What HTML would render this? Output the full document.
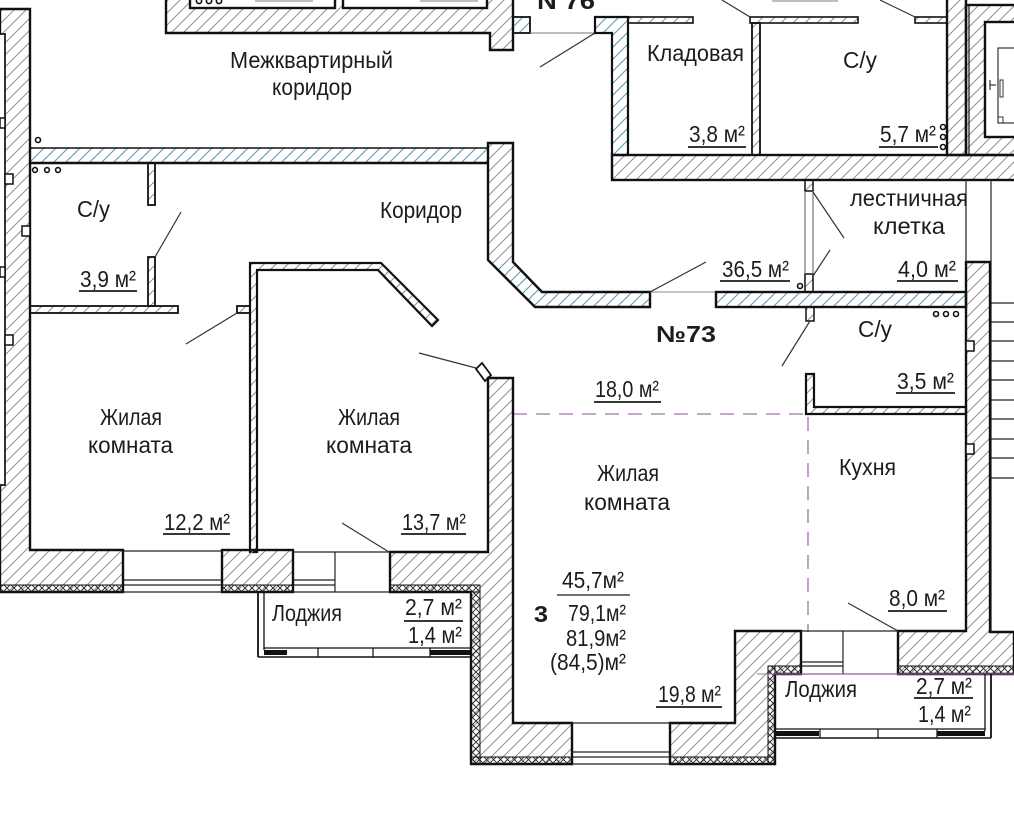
<!DOCTYPE html>
<html><head><meta charset="utf-8">
<style>
html,body{margin:0;padding:0;background:#fff;}
svg{display:block;}
text{font-family:"Liberation Sans","DejaVu Sans",sans-serif;fill:#1c1c1c;font-size:23px;}
.b{font-weight:bold;}
</style></head><body>
<svg width="1014" height="823" viewBox="0 0 1014 823" xmlns="http://www.w3.org/2000/svg">
<defs>
<pattern id="h" patternUnits="userSpaceOnUse" width="12" height="12">
<path d="M-3,15 L15,-3 M-3,3 L3,-3 M9,15 L15,9" stroke="#8f8f8f" stroke-width="1"/>
</pattern>
<pattern id="bl" patternUnits="userSpaceOnUse" width="12" height="12">
<path d="M-3,15 L15,-3 M-3,3 L3,-3 M9,15 L15,9" stroke="#5b9db3" stroke-width="1.1"/>
</pattern>
<pattern id="x" patternUnits="userSpaceOnUse" width="7" height="7">
<path d="M0,0 L7,7 M7,0 L0,7" stroke="#222" stroke-width="0.9"/>
</pattern>
</defs>
<rect width="1014" height="823" fill="#fff"/>

<!-- top neighbour block -->
<polygon points="166,-3 513,-3 513,50 490,50 490,33 166,33" fill="url(#h)" stroke="#111" stroke-width="2.4"/>
<rect x="190" y="-6" width="145" height="14" fill="#fff" stroke="#111" stroke-width="2.4"/>
<rect x="343" y="-6" width="144" height="14" fill="#fff" stroke="#111" stroke-width="2.4"/>
<g fill="none" stroke="#111" stroke-width="1.6"><circle cx="199" cy="1" r="2.6"/><circle cx="209" cy="1" r="2.6"/><circle cx="219" cy="1" r="2.6"/></g>
<line x1="255" y1="1" x2="313" y2="1" stroke="#999" stroke-width="1.2"/>
<line x1="420" y1="1" x2="478" y2="1" stroke="#999" stroke-width="1.2"/>
<text class="b" x="537" y="9" font-size="30" textLength="58" lengthAdjust="spacingAndGlyphs">N 76</text>

<rect x="513" y="17" width="17" height="16" fill="url(#bl)" stroke="#111" stroke-width="1.8"/>
<line x1="530" y1="33" x2="595" y2="33" stroke="#777" stroke-width="1"/>
<line x1="540" y1="67" x2="595" y2="33" stroke="#333" stroke-width="1.2"/>

<!-- gray band under storage / wc -->
<rect x="612" y="155" width="410" height="25" fill="url(#h)" stroke="#111" stroke-width="2.4"/>
<polygon points="595,17 628,17 628,155 612,155 612,33 595,33" fill="url(#bl)" stroke="#111" stroke-width="2.2"/>
<rect x="628" y="17" width="65" height="6" fill="url(#h)" stroke="#111" stroke-width="1.6"/>
<rect x="750" y="17" width="108" height="6" fill="url(#h)" stroke="#111" stroke-width="1.6"/>
<rect x="752" y="23" width="8" height="132" fill="url(#h)" stroke="#111" stroke-width="1.8"/>
<rect x="915" y="17" width="32" height="6" fill="url(#h)" stroke="#111" stroke-width="1.6"/>
<line x1="722" y1="0" x2="750" y2="17" stroke="#333" stroke-width="1.2"/>
<line x1="880" y1="0" x2="915" y2="17" stroke="#333" stroke-width="1.2"/>
<line x1="772" y1="1" x2="838" y2="1" stroke="#999" stroke-width="1.2"/>

<!-- column + elevator -->
<rect x="947" y="-3" width="19" height="158" fill="url(#h)" stroke="#111" stroke-width="2.4"/>
<rect x="966" y="5" width="52" height="150" fill="url(#h)" stroke="#111" stroke-width="2.4"/>
<line x1="969" y1="5" x2="969" y2="155" stroke="#111" stroke-width="1.2"/>
<rect x="985" y="22" width="35" height="115" fill="#fff" stroke="#111" stroke-width="2.4"/>
<rect x="998" y="48" width="20" height="75" fill="none" stroke="#333" stroke-width="1.2"/>
<rect x="998" y="117" width="5" height="6" fill="none" stroke="#333" stroke-width="1"/>
<line x1="990" y1="80" x2="990" y2="90" stroke="#333" stroke-width="1.2"/>
<line x1="990" y1="85" x2="996" y2="85" stroke="#333" stroke-width="1.2"/>
<rect x="1000" y="80" width="3" height="17" fill="none" stroke="#333" stroke-width="1"/>
<g fill="none" stroke="#111" stroke-width="1.6"><circle cx="943" cy="127" r="2.5"/><circle cx="943" cy="137" r="2.5"/><circle cx="943" cy="147" r="2.5"/></g>

<!-- apartment top wall -->
<rect x="30" y="148" width="458" height="15" fill="url(#bl)"/>
<line x1="30" y1="148" x2="488" y2="148" stroke="#111" stroke-width="1.6"/>
<line x1="30" y1="163" x2="488" y2="163" stroke="#111" stroke-width="2.6"/>

<!-- corridor wall with chamfer -->
<polygon points="488,143 513,143 513,262 488,260" fill="url(#h)"/>
<polygon points="488,260 513,262 542,292 650,292 650,307 535,307" fill="url(#bl)"/>
<polygon points="488,143 513,143 513,262 542,292 650,292 650,307 535,307 488,260" fill="none" stroke="#111" stroke-width="2.4"/>
<line x1="650" y1="292" x2="716" y2="292" stroke="#888" stroke-width="1"/>
<line x1="650" y1="292" x2="706" y2="262" stroke="#333" stroke-width="1.2"/>
<rect x="716" y="292" width="250" height="15" fill="url(#bl)" stroke="#111" stroke-width="2.4"/>

<!-- stairwell partition -->
<rect x="805" y="180" width="8" height="11" fill="url(#h)" stroke="#111" stroke-width="1.5"/>
<rect x="805" y="274" width="8" height="18" fill="url(#h)" stroke="#111" stroke-width="1.5"/>
<line x1="805" y1="191" x2="805" y2="274" stroke="#555" stroke-width="1"/>
<line x1="813" y1="191" x2="813" y2="274" stroke="#555" stroke-width="1"/>
<line x1="813" y1="192" x2="844" y2="238" stroke="#333" stroke-width="1.2"/>
<line x1="813" y1="276" x2="830" y2="250" stroke="#333" stroke-width="1.2"/>
<circle cx="800" cy="286" r="2.5" fill="none" stroke="#111" stroke-width="1.6"/>
<line x1="966" y1="180" x2="966" y2="262" stroke="#333" stroke-width="1.3"/>
<line x1="991" y1="180" x2="991" y2="632" stroke="#333" stroke-width="1.3"/>
<g stroke="#222" stroke-width="1.3">
<line x1="991" y1="303" x2="1014" y2="303"/><line x1="991" y1="322" x2="1014" y2="322"/>
<line x1="991" y1="341" x2="1014" y2="341"/><line x1="991" y1="361" x2="1014" y2="361"/>
<line x1="991" y1="380" x2="1014" y2="380"/><line x1="991" y1="400" x2="1014" y2="400"/>
<line x1="991" y1="419" x2="1014" y2="419"/><line x1="991" y1="439" x2="1014" y2="439"/>
<line x1="991" y1="458" x2="1014" y2="458"/><line x1="991" y1="478" x2="1014" y2="478"/>
</g>

<!-- right wall + kitchen bottom -->
<polygon points="898,631 966,631 966,262 990,262 990,632 1014,632 1014,674 898,674" fill="url(#h)" stroke="#111" stroke-width="2.4"/>
<rect x="966" y="341" width="8" height="10" fill="#fff" stroke="#111" stroke-width="1.5"/>
<rect x="966" y="444" width="8" height="10" fill="#fff" stroke="#111" stroke-width="1.5"/>

<!-- wc mid -->
<rect x="806" y="307" width="8" height="14" fill="url(#h)" stroke="#111" stroke-width="1.5"/>
<line x1="810" y1="321" x2="782" y2="366" stroke="#333" stroke-width="1.2"/>
<polygon points="806,374 814,374 814,407 966,407 966,414 806,414" fill="url(#h)" stroke="#111" stroke-width="2.2"/>
<g fill="none" stroke="#111" stroke-width="1.6"><circle cx="936" cy="314" r="2.5"/><circle cx="946" cy="314" r="2.5"/><circle cx="956" cy="314" r="2.5"/></g>

<!-- dashed purple -->
<line x1="513" y1="414" x2="806" y2="414" stroke="#a070a8" stroke-width="1.3" stroke-dasharray="14 9"/>
<line x1="808" y1="417" x2="808" y2="632" stroke="#a070a8" stroke-width="1.3" stroke-dasharray="14 9"/>

<!-- left wall -->
<polygon points="0,9 30,9 30,550 123,550 123,592 0,592" fill="url(#h)" stroke="#111" stroke-width="2.4"/>
<rect x="-3" y="34" width="8" height="451" fill="#fff" stroke="#111" stroke-width="1.7"/>
<g fill="#fff" stroke="#111" stroke-width="1.5">
<rect x="5" y="174" width="8" height="10"/><rect x="22" y="226" width="8" height="10"/>
<rect x="5" y="335" width="8" height="10"/><rect x="0" y="118" width="5" height="10"/>
<rect x="0" y="267" width="5" height="10"/>
</g>
<circle cx="38" cy="140" r="2.5" fill="none" stroke="#111" stroke-width="1.6"/>

<!-- left wc / room1 walls -->
<rect x="30" y="306" width="148" height="7" fill="url(#h)" stroke="#111" stroke-width="1.8"/>
<rect x="237" y="306" width="13" height="7" fill="url(#h)" stroke="#111" stroke-width="1.8"/>
<line x1="237" y1="313" x2="186" y2="344" stroke="#333" stroke-width="1.2"/>
<rect x="148" y="163" width="7" height="42" fill="url(#h)" stroke="#111" stroke-width="1.8"/>
<rect x="148" y="257" width="7" height="49" fill="url(#h)" stroke="#111" stroke-width="1.8"/>
<line x1="155" y1="257" x2="181" y2="212" stroke="#333" stroke-width="1.2"/>
<g fill="none" stroke="#111" stroke-width="1.6"><circle cx="35" cy="170" r="2.4"/><circle cx="47" cy="170" r="2.4"/><circle cx="58" cy="170" r="2.4"/></g>

<!-- room 2 walls -->
<polygon points="250,263 381,263 438,320 432,326 378,270 257,270 257,552 250,552" fill="url(#h)" stroke="#111" stroke-width="2.2"/>
<polygon points="476,369 482,363 491,375 485,381" fill="#fff" stroke="#111" stroke-width="1.8"/>
<line x1="476" y1="368" x2="419" y2="353" stroke="#333" stroke-width="1.2"/>

<!-- wall mass A -->
<polygon points="390,552 488,552 488,378 513,378 513,723 572,723 572,764 471,764 471,592 390,592" fill="url(#h)" stroke="#111" stroke-width="2.4"/>
<rect x="222" y="550" width="71" height="42" fill="url(#h)" stroke="#111" stroke-width="2.4"/>

<!-- windows bottom left -->
<g stroke="#222" stroke-width="1.2">
<line x1="123" y1="551" x2="222" y2="551"/><line x1="123" y1="580" x2="222" y2="580"/><line x1="123" y1="585" x2="222" y2="585"/><line x1="123" y1="592" x2="222" y2="592"/>
<line x1="293" y1="552" x2="390" y2="552"/><line x1="293" y1="580" x2="335" y2="580"/><line x1="293" y1="585" x2="335" y2="585"/><line x1="293" y1="592" x2="390" y2="592"/>
<line x1="335" y1="552" x2="335" y2="592"/>
</g>
<line x1="342" y1="523" x2="389" y2="552" stroke="#333" stroke-width="1.2"/>

<!-- wall mass B -->
<polygon points="670,723 735,723 735,631 801,631 801,674 775,674 775,764 670,764" fill="url(#h)" stroke="#111" stroke-width="2.4"/>
<g stroke="#222" stroke-width="1.2">
<line x1="572" y1="723" x2="670" y2="723"/><line x1="572" y1="752" x2="670" y2="752"/><line x1="572" y1="757" x2="670" y2="757"/><line x1="572" y1="764" x2="670" y2="764"/>
<line x1="801" y1="631" x2="898" y2="631"/><line x1="801" y1="662" x2="843" y2="662"/><line x1="801" y1="666" x2="843" y2="666"/>
<line x1="843" y1="631" x2="843" y2="674"/><line x1="801" y1="674" x2="898" y2="674"/>
</g>
<line x1="898" y1="631" x2="848" y2="603" stroke="#333" stroke-width="1.2"/>

<!-- crosshatch strips -->
<g fill="url(#x)" stroke="#111" stroke-width="1">
<rect x="0" y="585" width="123" height="7"/>
<rect x="222" y="585" width="71" height="7"/>
<rect x="390" y="585" width="90" height="7"/>
<rect x="471" y="592" width="9" height="172"/>
<rect x="471" y="757" width="101" height="7"/>
<rect x="670" y="757" width="105" height="7"/>
<rect x="768" y="666" width="7" height="98"/>
<rect x="768" y="666" width="33" height="8"/>
<rect x="898" y="666" width="116" height="8"/>
</g>
<line x1="757" y1="674" x2="1014" y2="674" stroke="#a070a8" stroke-width="1"/>

<!-- left loggia -->
<g stroke="#111">
<line x1="258" y1="592" x2="258" y2="657" stroke-width="1.8"/>
<line x1="264" y1="592" x2="264" y2="650" stroke-width="1.3"/>
<line x1="264" y1="648" x2="471" y2="648" stroke-width="1.2"/>
<line x1="258" y1="657" x2="471" y2="657" stroke-width="1.6"/>
<line x1="318" y1="648" x2="318" y2="657" stroke-width="1.2"/>
<line x1="373" y1="648" x2="373" y2="657" stroke-width="1.2"/>
<line x1="430" y1="648" x2="430" y2="657" stroke-width="1.2"/>
</g>
<rect x="264" y="650" width="23" height="5" fill="#111"/>
<rect x="430" y="650" width="41" height="5" fill="#111"/>

<!-- right loggia -->
<g stroke="#111">
<line x1="985" y1="674" x2="985" y2="731" stroke-width="1.3"/>
<line x1="991" y1="674" x2="991" y2="738" stroke-width="1.8"/>
<line x1="775" y1="729" x2="985" y2="729" stroke-width="1.2"/>
<line x1="775" y1="738" x2="991" y2="738" stroke-width="1.6"/>
<line x1="820" y1="729" x2="820" y2="738" stroke-width="1.2"/>
<line x1="878" y1="729" x2="878" y2="738" stroke-width="1.2"/>
<line x1="937" y1="729" x2="937" y2="738" stroke-width="1.2"/>
</g>
<rect x="775" y="731" width="44" height="5" fill="#111"/>
<rect x="937" y="731" width="48" height="5" fill="#111"/>

<!-- TEXT -->
<text x="230" y="68" textLength="163" lengthAdjust="spacingAndGlyphs">Межквартирный</text>
<text x="272" y="95" textLength="80" lengthAdjust="spacingAndGlyphs">коридор</text>
<text x="647" y="61" textLength="97" lengthAdjust="spacingAndGlyphs">Кладовая</text>
<text x="843" y="68" textLength="34" lengthAdjust="spacingAndGlyphs">С/у</text>
<text x="689" y="142" textLength="56" lengthAdjust="spacingAndGlyphs">3,8 м²</text>
<text x="880" y="142" textLength="56" lengthAdjust="spacingAndGlyphs">5,7 м²</text>
<text x="77" y="217" textLength="33" lengthAdjust="spacingAndGlyphs">С/у</text>
<text x="80" y="287" textLength="56" lengthAdjust="spacingAndGlyphs">3,9 м²</text>
<text x="380" y="218" textLength="82" lengthAdjust="spacingAndGlyphs">Коридор</text>
<text x="722" y="277" textLength="67" lengthAdjust="spacingAndGlyphs">36,5 м²</text>
<text x="850" y="206" textLength="118" lengthAdjust="spacingAndGlyphs">лестничная</text>
<text x="873" y="234" textLength="72" lengthAdjust="spacingAndGlyphs">клетка</text>
<text x="898" y="277" textLength="58" lengthAdjust="spacingAndGlyphs">4,0 м²</text>
<text class="b" x="656" y="342" font-size="33" textLength="60" lengthAdjust="spacingAndGlyphs">№73</text>
<text x="858" y="337" textLength="34" lengthAdjust="spacingAndGlyphs">С/у</text>
<text x="897" y="389" textLength="57" lengthAdjust="spacingAndGlyphs">3,5 м²</text>
<text x="595" y="397" textLength="64" lengthAdjust="spacingAndGlyphs">18,0 м²</text>
<text x="100" y="425" textLength="62" lengthAdjust="spacingAndGlyphs">Жилая</text>
<text x="88" y="453" textLength="85" lengthAdjust="spacingAndGlyphs">комната</text>
<text x="164" y="530" textLength="66" lengthAdjust="spacingAndGlyphs">12,2 м²</text>
<text x="338" y="425" textLength="62" lengthAdjust="spacingAndGlyphs">Жилая</text>
<text x="326" y="453" textLength="86" lengthAdjust="spacingAndGlyphs">комната</text>
<text x="402" y="530" textLength="64" lengthAdjust="spacingAndGlyphs">13,7 м²</text>
<text x="597" y="481" textLength="62" lengthAdjust="spacingAndGlyphs">Жилая</text>
<text x="584" y="510" textLength="86" lengthAdjust="spacingAndGlyphs">комната</text>
<text x="839" y="475" textLength="57" lengthAdjust="spacingAndGlyphs">Кухня</text>
<text x="889" y="606" textLength="56" lengthAdjust="spacingAndGlyphs">8,0 м²</text>
<text class="b" x="534" y="622" font-size="31" textLength="14" lengthAdjust="spacingAndGlyphs">3</text>
<text x="562" y="588" textLength="62" lengthAdjust="spacingAndGlyphs">45,7м²</text>
<text x="568" y="621" textLength="58" lengthAdjust="spacingAndGlyphs">79,1м²</text>
<text x="566" y="646" textLength="60" lengthAdjust="spacingAndGlyphs">81,9м²</text>
<text x="550" y="670" textLength="76" lengthAdjust="spacingAndGlyphs">(84,5)м²</text>
<text x="658" y="702" textLength="63" lengthAdjust="spacingAndGlyphs">19,8 м²</text>
<text x="272" y="621" textLength="70" lengthAdjust="spacingAndGlyphs">Лоджия</text>
<text x="405" y="615" textLength="57" lengthAdjust="spacingAndGlyphs">2,7 м²</text>
<text x="408" y="643" textLength="54" lengthAdjust="spacingAndGlyphs">1,4 м²</text>
<text x="785" y="697" textLength="72" lengthAdjust="spacingAndGlyphs">Лоджия</text>
<text x="916" y="694" textLength="56" lengthAdjust="spacingAndGlyphs">2,7 м²</text>
<text x="918" y="722" textLength="53" lengthAdjust="spacingAndGlyphs">1,4 м²</text>

<!-- underlines -->
<g stroke="#1c1c1c" stroke-width="1.7">
<line x1="688" y1="147" x2="746" y2="147"/>
<line x1="879" y1="147" x2="938" y2="147"/>
<line x1="79" y1="291" x2="137" y2="291"/>
<line x1="720" y1="281" x2="790" y2="281"/>
<line x1="897" y1="281" x2="958" y2="281"/>
<line x1="896" y1="393" x2="955" y2="393"/>
<line x1="594" y1="402" x2="661" y2="402"/>
<line x1="163" y1="534" x2="230" y2="534"/>
<line x1="401" y1="534" x2="466" y2="534"/>
<line x1="888" y1="611" x2="947" y2="611"/>
<line x1="557" y1="595" x2="630" y2="595" stroke-width="1.3"/>
<line x1="656" y1="707" x2="722" y2="707"/>
<line x1="404" y1="621" x2="463" y2="621"/>
<line x1="914" y1="698" x2="973" y2="698"/>
</g>
</svg>
</body></html>
